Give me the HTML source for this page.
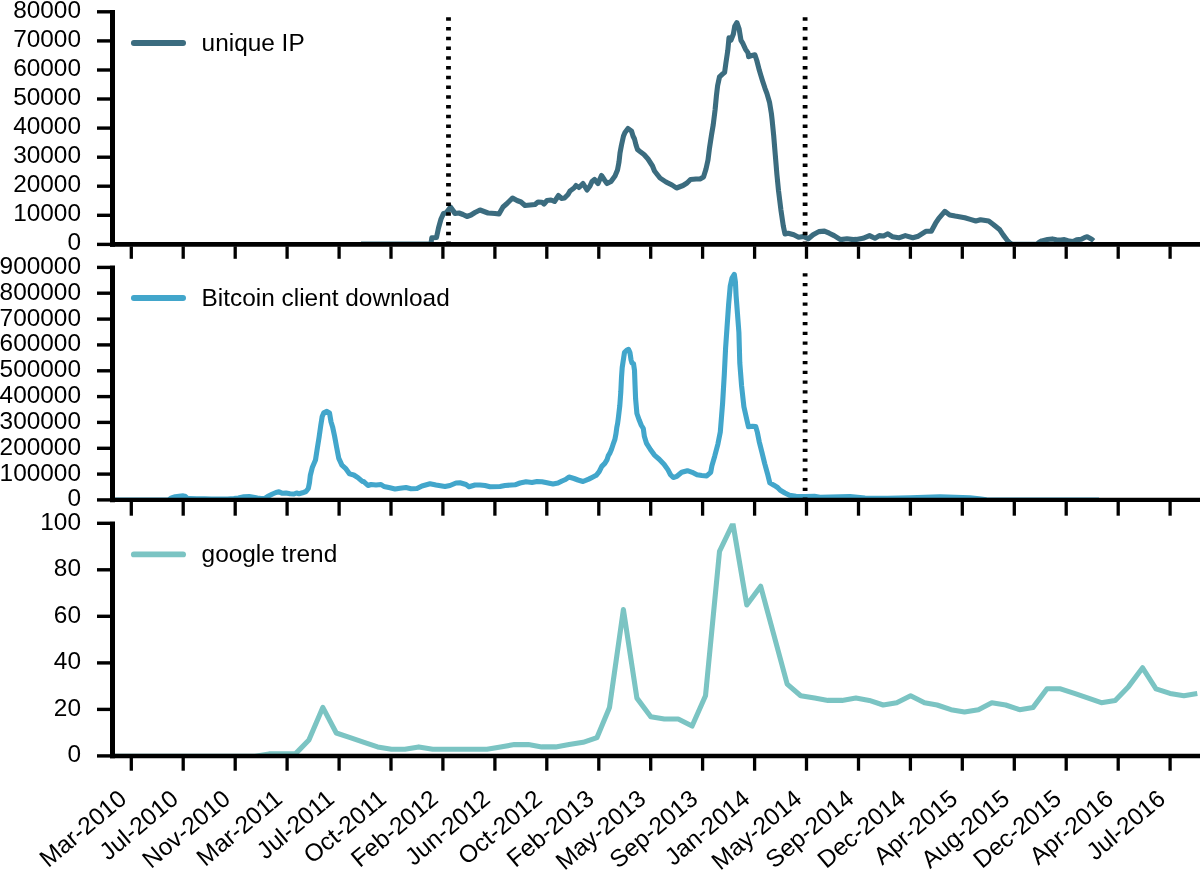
<!DOCTYPE html><html><head><meta charset="utf-8"><style>html,body{margin:0;padding:0;background:#fff;overflow:hidden}svg{display:block;will-change:transform}text{font-family:"Liberation Sans",sans-serif;font-size:24.4px;fill:#000}</style></head><body>
<svg width="1200" height="870" viewBox="0 0 1200 870">
<defs>
<clipPath id="c0"><rect x="112.5" y="11.8" width="1100" height="232.6"/></clipPath>
<clipPath id="c1"><rect x="112.5" y="267.4" width="1100" height="232.6"/></clipPath>
<clipPath id="c2"><rect x="112.5" y="523.3" width="1100" height="232.6"/></clipPath>
</defs>
<rect width="1200" height="870" fill="#fff"/>
<polyline clip-path="url(#c0)" points="361.0,244.1 425.0,244.1 431.0,244.1 431.2,242.0 431.8,237.8 436.5,237.5 438.5,228.0 441.0,219.0 443.5,213.5 446.0,213.0 448.5,210.0 450.5,207.0 453.0,210.5 455.0,213.5 459.0,213.0 463.0,214.5 467.0,216.5 471.0,215.0 475.0,212.5 480.0,210.0 484.0,211.5 488.0,213.0 495.0,213.5 499.0,214.0 503.0,207.0 507.0,203.5 512.5,198.0 517.0,200.5 521.0,202.0 525.0,205.5 530.0,205.0 535.0,204.5 538.0,202.0 542.0,202.2 544.0,204.0 547.0,200.5 551.0,200.0 554.5,201.5 558.5,195.5 561.5,198.5 564.5,198.0 568.0,194.5 570.0,191.0 574.0,188.0 576.0,185.5 579.0,187.5 583.0,183.5 587.0,190.0 590.0,186.0 592.0,181.5 594.5,179.5 598.0,183.5 601.5,175.5 604.5,180.0 607.0,183.5 611.0,181.5 615.0,176.0 617.5,170.0 619.0,162.0 620.0,153.0 621.5,145.0 623.5,136.0 625.0,132.5 628.0,128.5 631.5,131.0 633.0,136.0 634.5,139.0 636.0,145.0 637.5,149.5 640.0,151.5 644.0,154.5 648.0,159.0 652.5,166.0 654.5,171.0 660.0,178.0 666.0,182.0 672.0,185.0 676.5,188.0 683.0,185.5 687.0,183.0 690.5,179.5 696.0,179.0 700.0,179.0 703.5,177.0 706.0,169.0 708.0,160.0 709.5,148.0 711.5,135.0 713.2,125.0 715.1,109.8 716.4,95.9 717.6,85.8 719.5,76.9 722.7,73.8 724.6,72.5 725.9,63.0 727.8,50.4 729.0,37.8 730.9,40.3 733.4,34.0 734.7,26.4 736.9,22.6 739.1,28.9 741.0,40.3 742.9,43.4 745.4,49.1 748.0,52.9 748.6,56.7 751.8,55.5 754.9,54.8 756.8,60.5 759.4,70.6 762.5,80.7 765.0,88.3 766.9,93.4 769.5,102.2 771.4,113.6 772.1,119.7 773.7,135.8 775.3,155.1 776.9,174.4 778.5,190.5 780.9,209.8 783.3,226.0 785.0,234.0 788.2,233.2 793.8,234.8 798.6,237.2 803.5,236.4 808.3,238.8 813.1,234.8 818.8,231.6 824.4,231.1 829.2,233.2 834.1,235.6 840.5,239.6 847.0,238.8 853.4,239.6 856.5,239.4 863.0,238.3 869.5,235.6 874.9,238.3 879.3,235.6 883.6,236.0 887.9,233.8 892.3,236.7 898.8,237.8 905.3,235.6 912.8,237.8 918.3,236.2 925.8,231.3 931.3,231.3 935.6,223.2 938.8,218.3 944.8,211.3 949.7,215.0 955.1,216.1 964.8,217.8 970.3,219.4 975.8,221.0 980.5,219.8 988.7,221.0 993.3,224.5 999.8,229.8 1003.3,235.1 1007.2,240.3 1010.0,243.0 1012.5,244.4 1036.5,244.4 1039.5,242.0 1041.7,240.9 1047.5,239.6 1052.2,238.9 1056.3,239.8 1060.9,240.1 1064.4,239.6 1067.9,240.7 1070.8,241.2 1073.2,241.6 1076.7,239.8 1081.3,239.2 1084.8,237.4 1087.2,236.8 1091.3,238.9 1093.6,240.9" fill="none" stroke="#3b6c7f" stroke-width="5.1" stroke-linejoin="round" stroke-linecap="butt"/>
<line x1="448.5" y1="245.00" x2="448.5" y2="11.8" stroke="#000" stroke-width="4.8" stroke-dasharray="3.4 6.35"/>
<line x1="805.1" y1="245.00" x2="805.1" y2="11.8" stroke="#000" stroke-width="4.8" stroke-dasharray="3.4 6.35"/>
<line x1="112.5" y1="9.9" x2="112.5" y2="246.8" stroke="#000" stroke-width="5"/>
<line x1="110" y1="244.33" x2="1200" y2="244.33" stroke="#000" stroke-width="4.85"/>
<line x1="97" y1="244.4" x2="110" y2="244.4" stroke="#000" stroke-width="3.4"/>
<text x="81" y="250.3" text-anchor="end">0</text>
<line x1="97" y1="215.3" x2="110" y2="215.3" stroke="#000" stroke-width="3.4"/>
<text x="81" y="221.3" text-anchor="end">10000</text>
<line x1="97" y1="186.2" x2="110" y2="186.2" stroke="#000" stroke-width="3.4"/>
<text x="81" y="192.2" text-anchor="end">20000</text>
<line x1="97" y1="157.2" x2="110" y2="157.2" stroke="#000" stroke-width="3.4"/>
<text x="81" y="163.1" text-anchor="end">30000</text>
<line x1="97" y1="128.1" x2="110" y2="128.1" stroke="#000" stroke-width="3.4"/>
<text x="81" y="134.1" text-anchor="end">40000</text>
<line x1="97" y1="99.0" x2="110" y2="99.0" stroke="#000" stroke-width="3.4"/>
<text x="81" y="105.0" text-anchor="end">50000</text>
<line x1="97" y1="70.0" x2="110" y2="70.0" stroke="#000" stroke-width="3.4"/>
<text x="81" y="75.9" text-anchor="end">60000</text>
<line x1="97" y1="40.9" x2="110" y2="40.9" stroke="#000" stroke-width="3.4"/>
<text x="81" y="46.8" text-anchor="end">70000</text>
<line x1="97" y1="11.8" x2="110" y2="11.8" stroke="#000" stroke-width="3.4"/>
<text x="81" y="17.8" text-anchor="end">80000</text>
<line x1="131.3" y1="246.4" x2="131.3" y2="258.8" stroke="#000" stroke-width="3.3"/>
<line x1="183.2" y1="246.4" x2="183.2" y2="258.8" stroke="#000" stroke-width="3.3"/>
<line x1="235.2" y1="246.4" x2="235.2" y2="258.8" stroke="#000" stroke-width="3.3"/>
<line x1="287.1" y1="246.4" x2="287.1" y2="258.8" stroke="#000" stroke-width="3.3"/>
<line x1="339.1" y1="246.4" x2="339.1" y2="258.8" stroke="#000" stroke-width="3.3"/>
<line x1="391.0" y1="246.4" x2="391.0" y2="258.8" stroke="#000" stroke-width="3.3"/>
<line x1="442.9" y1="246.4" x2="442.9" y2="258.8" stroke="#000" stroke-width="3.3"/>
<line x1="494.9" y1="246.4" x2="494.9" y2="258.8" stroke="#000" stroke-width="3.3"/>
<line x1="546.8" y1="246.4" x2="546.8" y2="258.8" stroke="#000" stroke-width="3.3"/>
<line x1="598.8" y1="246.4" x2="598.8" y2="258.8" stroke="#000" stroke-width="3.3"/>
<line x1="650.7" y1="246.4" x2="650.7" y2="258.8" stroke="#000" stroke-width="3.3"/>
<line x1="702.6" y1="246.4" x2="702.6" y2="258.8" stroke="#000" stroke-width="3.3"/>
<line x1="754.6" y1="246.4" x2="754.6" y2="258.8" stroke="#000" stroke-width="3.3"/>
<line x1="806.5" y1="246.4" x2="806.5" y2="258.8" stroke="#000" stroke-width="3.3"/>
<line x1="858.5" y1="246.4" x2="858.5" y2="258.8" stroke="#000" stroke-width="3.3"/>
<line x1="910.4" y1="246.4" x2="910.4" y2="258.8" stroke="#000" stroke-width="3.3"/>
<line x1="962.3" y1="246.4" x2="962.3" y2="258.8" stroke="#000" stroke-width="3.3"/>
<line x1="1014.3" y1="246.4" x2="1014.3" y2="258.8" stroke="#000" stroke-width="3.3"/>
<line x1="1066.2" y1="246.4" x2="1066.2" y2="258.8" stroke="#000" stroke-width="3.3"/>
<line x1="1118.2" y1="246.4" x2="1118.2" y2="258.8" stroke="#000" stroke-width="3.3"/>
<line x1="1170.1" y1="246.4" x2="1170.1" y2="258.8" stroke="#000" stroke-width="3.3"/>
<line x1="133.9" y1="42.95" x2="183.05" y2="42.95" stroke="#3b6c7f" stroke-width="5.9" stroke-linecap="round"/>
<text x="201.6" y="50.9">unique IP</text>
<polyline clip-path="url(#c1)" points="110.0,500.1 167.5,500.1 168.7,499.8 171.4,497.9 175.2,496.8 179.0,496.4 183.3,495.9 185.0,496.2 187.1,498.1 188.8,498.6 196.9,498.9 204.8,498.9 211.2,499.1 227.5,499.1 234.0,498.6 238.3,497.9 243.8,496.8 249.2,496.6 253.5,497.3 257.3,498.1 261.0,498.6 264.5,498.5 267.5,496.5 272.5,494.0 276.0,492.5 279.0,491.8 282.5,493.3 286.0,493.0 290.0,493.8 294.0,494.0 296.5,493.0 299.0,493.8 302.5,492.8 306.0,491.5 308.3,488.5 309.5,482.5 310.3,475.5 312.4,467.2 315.5,460.0 317.1,449.6 319.1,437.2 320.7,425.9 322.2,416.5 323.8,412.9 326.9,411.4 329.5,412.9 331.0,421.7 332.6,426.9 334.6,436.2 336.7,447.6 338.8,458.4 341.9,465.1 345.5,468.3 349.6,473.9 353.8,475.0 357.9,477.6 362.0,481.2 364.0,481.8 368.0,485.5 371.0,484.5 376.0,485.0 381.0,484.5 384.0,486.5 390.0,487.8 395.0,489.0 400.0,488.2 406.0,487.5 411.0,488.8 417.0,488.5 422.0,486.0 430.0,483.8 436.0,485.0 445.0,486.5 450.0,485.5 456.0,483.0 460.0,482.8 466.0,484.5 469.0,486.8 475.0,485.0 480.0,485.0 485.0,485.5 490.0,486.8 500.0,486.5 505.0,485.5 515.0,484.8 520.0,483.0 526.0,481.8 532.0,482.5 537.0,481.5 542.0,481.8 547.0,482.8 553.0,484.0 558.0,483.0 562.0,481.0 565.5,479.5 569.0,477.0 574.0,478.5 578.0,480.0 583.0,481.5 588.7,479.1 592.5,477.2 596.2,475.3 599.2,471.6 601.8,466.4 604.8,463.4 607.1,459.6 608.2,455.9 610.0,452.9 611.5,449.2 613.0,444.7 614.9,439.4 616.0,433.5 616.8,427.5 617.6,423.5 618.3,418.4 619.8,405.6 620.8,392.0 621.5,377.3 622.2,367.5 623.7,357.7 624.5,352.3 626.6,350.4 628.6,349.4 630.0,352.8 631.0,359.7 632.0,363.1 633.5,363.6 634.5,370.4 635.0,384.1 635.6,398.8 636.9,413.5 639.3,420.3 641.3,425.2 643.3,428.5 644.4,436.6 646.4,443.1 650.4,449.5 654.4,455.1 659.2,459.2 664.0,464.2 668.0,469.9 670.5,474.7 673.3,477.5 676.9,476.3 681.7,472.3 687.4,470.7 692.2,472.3 697.0,474.7 701.8,475.5 706.7,475.9 710.7,472.3 711.9,465.9 714.7,456.2 717.9,444.1 720.3,432.0 722.6,403.2 724.3,374.5 725.6,348.0 727.0,327.8 728.6,304.8 730.2,286.4 732.0,278.1 734.3,274.4 735.4,281.8 736.1,295.6 737.5,314.0 738.9,332.4 739.8,363.0 741.6,386.0 743.9,406.7 746.7,419.3 748.5,426.8 752.5,426.2 755.7,426.5 757.4,432.4 759.2,441.6 762.0,452.6 764.7,463.6 767.5,473.7 769.8,482.9 773.9,485.2 777.6,487.5 780.3,490.3 784.9,493.0 789.5,495.3 796.0,496.3 805.2,496.5 814.4,496.3 820.0,497.2 850.0,496.5 865.0,498.0 887.5,498.3 910.0,497.7 940.0,496.8 970.0,497.7 979.0,498.7 986.5,499.8 1000.0,500.0 1099.0,500.1" fill="none" stroke="#42a6cb" stroke-width="5.1" stroke-linejoin="round" stroke-linecap="butt"/>
<line x1="805.1" y1="500.85" x2="805.1" y2="267.4" stroke="#000" stroke-width="4.8" stroke-dasharray="3.4 6.35"/>
<line x1="112.5" y1="265.5" x2="112.5" y2="502.3" stroke="#000" stroke-width="5"/>
<line x1="110" y1="499.9" x2="1200" y2="499.9" stroke="#000" stroke-width="4.3"/>
<line x1="97" y1="499.9" x2="110" y2="499.9" stroke="#000" stroke-width="3.4"/>
<text x="81" y="506.4" text-anchor="end">0</text>
<line x1="97" y1="474.1" x2="110" y2="474.1" stroke="#000" stroke-width="3.4"/>
<text x="81" y="480.6" text-anchor="end">100000</text>
<line x1="97" y1="448.3" x2="110" y2="448.3" stroke="#000" stroke-width="3.4"/>
<text x="81" y="454.8" text-anchor="end">200000</text>
<line x1="97" y1="422.4" x2="110" y2="422.4" stroke="#000" stroke-width="3.4"/>
<text x="81" y="428.9" text-anchor="end">300000</text>
<line x1="97" y1="396.6" x2="110" y2="396.6" stroke="#000" stroke-width="3.4"/>
<text x="81" y="403.1" text-anchor="end">400000</text>
<line x1="97" y1="370.8" x2="110" y2="370.8" stroke="#000" stroke-width="3.4"/>
<text x="81" y="377.3" text-anchor="end">500000</text>
<line x1="97" y1="344.9" x2="110" y2="344.9" stroke="#000" stroke-width="3.4"/>
<text x="81" y="351.4" text-anchor="end">600000</text>
<line x1="97" y1="319.1" x2="110" y2="319.1" stroke="#000" stroke-width="3.4"/>
<text x="81" y="325.6" text-anchor="end">700000</text>
<line x1="97" y1="293.2" x2="110" y2="293.2" stroke="#000" stroke-width="3.4"/>
<text x="81" y="299.7" text-anchor="end">800000</text>
<line x1="97" y1="267.4" x2="110" y2="267.4" stroke="#000" stroke-width="3.4"/>
<text x="81" y="273.9" text-anchor="end">900000</text>
<line x1="131.3" y1="501.9" x2="131.3" y2="515.7" stroke="#000" stroke-width="3.3"/>
<line x1="183.2" y1="501.9" x2="183.2" y2="515.7" stroke="#000" stroke-width="3.3"/>
<line x1="235.2" y1="501.9" x2="235.2" y2="515.7" stroke="#000" stroke-width="3.3"/>
<line x1="287.1" y1="501.9" x2="287.1" y2="515.7" stroke="#000" stroke-width="3.3"/>
<line x1="339.1" y1="501.9" x2="339.1" y2="515.7" stroke="#000" stroke-width="3.3"/>
<line x1="391.0" y1="501.9" x2="391.0" y2="515.7" stroke="#000" stroke-width="3.3"/>
<line x1="442.9" y1="501.9" x2="442.9" y2="515.7" stroke="#000" stroke-width="3.3"/>
<line x1="494.9" y1="501.9" x2="494.9" y2="515.7" stroke="#000" stroke-width="3.3"/>
<line x1="546.8" y1="501.9" x2="546.8" y2="515.7" stroke="#000" stroke-width="3.3"/>
<line x1="598.8" y1="501.9" x2="598.8" y2="515.7" stroke="#000" stroke-width="3.3"/>
<line x1="650.7" y1="501.9" x2="650.7" y2="515.7" stroke="#000" stroke-width="3.3"/>
<line x1="702.6" y1="501.9" x2="702.6" y2="515.7" stroke="#000" stroke-width="3.3"/>
<line x1="754.6" y1="501.9" x2="754.6" y2="515.7" stroke="#000" stroke-width="3.3"/>
<line x1="806.5" y1="501.9" x2="806.5" y2="515.7" stroke="#000" stroke-width="3.3"/>
<line x1="858.5" y1="501.9" x2="858.5" y2="515.7" stroke="#000" stroke-width="3.3"/>
<line x1="910.4" y1="501.9" x2="910.4" y2="515.7" stroke="#000" stroke-width="3.3"/>
<line x1="962.3" y1="501.9" x2="962.3" y2="515.7" stroke="#000" stroke-width="3.3"/>
<line x1="1014.3" y1="501.9" x2="1014.3" y2="515.7" stroke="#000" stroke-width="3.3"/>
<line x1="1066.2" y1="501.9" x2="1066.2" y2="515.7" stroke="#000" stroke-width="3.3"/>
<line x1="1118.2" y1="501.9" x2="1118.2" y2="515.7" stroke="#000" stroke-width="3.3"/>
<line x1="1170.1" y1="501.9" x2="1170.1" y2="515.7" stroke="#000" stroke-width="3.3"/>
<line x1="133.9" y1="298.00" x2="183.05" y2="298.00" stroke="#42a6cb" stroke-width="5.9" stroke-linecap="round"/>
<text x="201.6" y="305.9">Bitcoin client download</text>
<polyline clip-path="url(#c2)" points="105.2,756.2 117.8,756.2 131.7,756.2 145.1,756.2 159.0,756.2 172.5,756.2 186.4,756.2 200.3,756.2 213.8,756.2 227.7,756.2 241.2,756.2 255.1,756.2 269.0,753.9 281.5,753.9 295.4,753.9 308.9,740.0 322.8,707.4 336.3,733.0 350.2,737.6 364.1,742.3 377.6,746.9 391.5,749.3 404.9,749.3 418.8,746.9 432.7,749.3 445.8,749.3 459.7,749.3 473.1,749.3 487.0,749.3 500.5,746.9 514.4,744.6 528.3,744.6 541.8,746.9 555.7,746.9 569.1,744.6 583.1,742.3 597.0,737.6 609.5,707.4 623.4,609.6 636.9,698.1 650.8,716.7 664.3,719.0 678.2,719.0 692.1,726.0 705.5,695.7 719.5,551.4 732.9,523.5 746.8,605.0 760.7,586.3 773.3,632.9 787.2,684.1 800.7,695.7 814.6,698.1 828.0,700.4 842.0,700.4 855.9,698.1 869.3,700.4 883.2,705.0 896.7,702.7 910.6,695.7 924.5,702.7 937.1,705.0 951.0,709.7 964.5,712.0 978.4,709.7 991.8,702.7 1005.7,705.0 1019.6,709.7 1033.1,707.4 1047.0,688.8 1060.5,688.8 1074.4,693.4 1088.3,698.1 1101.3,702.7 1115.2,700.4 1128.7,686.4 1142.6,667.8 1156.0,688.8 1170.0,693.4 1183.9,695.7 1197.3,693.4" fill="none" stroke="#7bc4c3" stroke-width="5.1" stroke-linejoin="round" stroke-linecap="butt"/>
<line x1="112.5" y1="521.4" x2="112.5" y2="758.3" stroke="#000" stroke-width="5"/>
<line x1="110" y1="755.95" x2="1200" y2="755.95" stroke="#000" stroke-width="4.4"/>
<line x1="97" y1="755.9" x2="110" y2="755.9" stroke="#000" stroke-width="3.4"/>
<text x="81" y="762.2" text-anchor="end">0</text>
<line x1="97" y1="709.4" x2="110" y2="709.4" stroke="#000" stroke-width="3.4"/>
<text x="81" y="715.7" text-anchor="end">20</text>
<line x1="97" y1="662.9" x2="110" y2="662.9" stroke="#000" stroke-width="3.4"/>
<text x="81" y="669.2" text-anchor="end">40</text>
<line x1="97" y1="616.3" x2="110" y2="616.3" stroke="#000" stroke-width="3.4"/>
<text x="81" y="622.6" text-anchor="end">60</text>
<line x1="97" y1="569.8" x2="110" y2="569.8" stroke="#000" stroke-width="3.4"/>
<text x="81" y="576.1" text-anchor="end">80</text>
<line x1="97" y1="523.3" x2="110" y2="523.3" stroke="#000" stroke-width="3.4"/>
<text x="81" y="529.6" text-anchor="end">100</text>
<line x1="131.3" y1="757.9" x2="131.3" y2="770.7" stroke="#000" stroke-width="3.3"/>
<line x1="183.2" y1="757.9" x2="183.2" y2="770.7" stroke="#000" stroke-width="3.3"/>
<line x1="235.2" y1="757.9" x2="235.2" y2="770.7" stroke="#000" stroke-width="3.3"/>
<line x1="287.1" y1="757.9" x2="287.1" y2="770.7" stroke="#000" stroke-width="3.3"/>
<line x1="339.1" y1="757.9" x2="339.1" y2="770.7" stroke="#000" stroke-width="3.3"/>
<line x1="391.0" y1="757.9" x2="391.0" y2="770.7" stroke="#000" stroke-width="3.3"/>
<line x1="442.9" y1="757.9" x2="442.9" y2="770.7" stroke="#000" stroke-width="3.3"/>
<line x1="494.9" y1="757.9" x2="494.9" y2="770.7" stroke="#000" stroke-width="3.3"/>
<line x1="546.8" y1="757.9" x2="546.8" y2="770.7" stroke="#000" stroke-width="3.3"/>
<line x1="598.8" y1="757.9" x2="598.8" y2="770.7" stroke="#000" stroke-width="3.3"/>
<line x1="650.7" y1="757.9" x2="650.7" y2="770.7" stroke="#000" stroke-width="3.3"/>
<line x1="702.6" y1="757.9" x2="702.6" y2="770.7" stroke="#000" stroke-width="3.3"/>
<line x1="754.6" y1="757.9" x2="754.6" y2="770.7" stroke="#000" stroke-width="3.3"/>
<line x1="806.5" y1="757.9" x2="806.5" y2="770.7" stroke="#000" stroke-width="3.3"/>
<line x1="858.5" y1="757.9" x2="858.5" y2="770.7" stroke="#000" stroke-width="3.3"/>
<line x1="910.4" y1="757.9" x2="910.4" y2="770.7" stroke="#000" stroke-width="3.3"/>
<line x1="962.3" y1="757.9" x2="962.3" y2="770.7" stroke="#000" stroke-width="3.3"/>
<line x1="1014.3" y1="757.9" x2="1014.3" y2="770.7" stroke="#000" stroke-width="3.3"/>
<line x1="1066.2" y1="757.9" x2="1066.2" y2="770.7" stroke="#000" stroke-width="3.3"/>
<line x1="1118.2" y1="757.9" x2="1118.2" y2="770.7" stroke="#000" stroke-width="3.3"/>
<line x1="1170.1" y1="757.9" x2="1170.1" y2="770.7" stroke="#000" stroke-width="3.3"/>
<line x1="133.9" y1="554.40" x2="183.05" y2="554.40" stroke="#7bc4c3" stroke-width="5.9" stroke-linecap="round"/>
<text x="201.6" y="562.4">google trend</text>
<text transform="translate(128.1,801.2) rotate(-40)" text-anchor="end">Mar-2010</text>
<text transform="translate(180.0,801.2) rotate(-40)" text-anchor="end">Jul-2010</text>
<text transform="translate(232.0,801.2) rotate(-40)" text-anchor="end">Nov-2010</text>
<text transform="translate(283.9,801.2) rotate(-40)" text-anchor="end">Mar-2011</text>
<text transform="translate(335.9,801.2) rotate(-40)" text-anchor="end">Jul-2011</text>
<text transform="translate(387.8,801.2) rotate(-40)" text-anchor="end">Oct-2011</text>
<text transform="translate(439.7,801.2) rotate(-40)" text-anchor="end">Feb-2012</text>
<text transform="translate(491.7,801.2) rotate(-40)" text-anchor="end">Jun-2012</text>
<text transform="translate(543.6,801.2) rotate(-40)" text-anchor="end">Oct-2012</text>
<text transform="translate(595.6,801.2) rotate(-40)" text-anchor="end">Feb-2013</text>
<text transform="translate(647.5,801.2) rotate(-40)" text-anchor="end">May-2013</text>
<text transform="translate(699.4,801.2) rotate(-40)" text-anchor="end">Sep-2013</text>
<text transform="translate(751.4,801.2) rotate(-40)" text-anchor="end">Jan-2014</text>
<text transform="translate(803.3,801.2) rotate(-40)" text-anchor="end">May-2014</text>
<text transform="translate(855.3,801.2) rotate(-40)" text-anchor="end">Sep-2014</text>
<text transform="translate(907.2,801.2) rotate(-40)" text-anchor="end">Dec-2014</text>
<text transform="translate(959.1,801.2) rotate(-40)" text-anchor="end">Apr-2015</text>
<text transform="translate(1011.1,801.2) rotate(-40)" text-anchor="end">Aug-2015</text>
<text transform="translate(1063.0,801.2) rotate(-40)" text-anchor="end">Dec-2015</text>
<text transform="translate(1115.0,801.2) rotate(-40)" text-anchor="end">Apr-2016</text>
<text transform="translate(1166.9,801.2) rotate(-40)" text-anchor="end">Jul-2016</text>
</svg></body></html>
